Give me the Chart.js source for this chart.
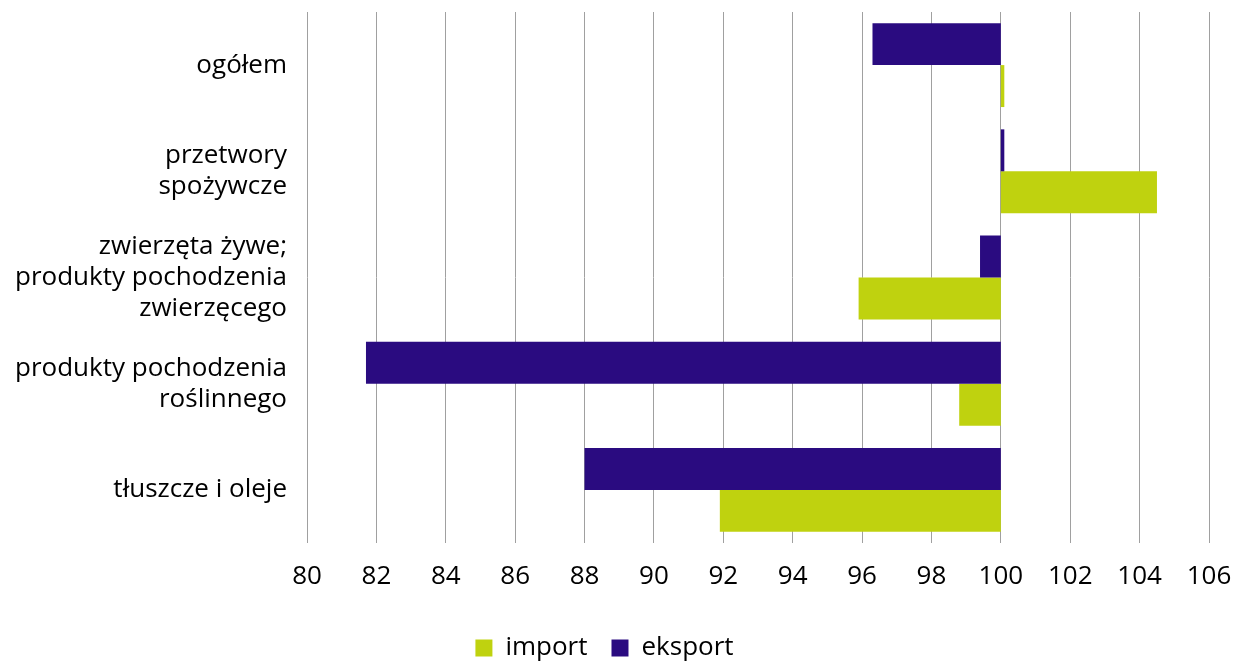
<!DOCTYPE html>
<html>
<head>
<meta charset="utf-8">
<script src="https://cdn.jsdelivr.net/npm/chart.js@4/dist/chart.umd.min.js"></script>
<style>
  html, body { margin: 0; padding: 0; background: #fff; }
  #wrap { width: 1242px; height: 661px; position: relative; }
</style>
</head>
<body>
<div id="wrap"><canvas id="chart"></canvas></div>
<script>
// ── Data ─────────────────────────────────────────────────────────────────────
const categories = [
  ['ogółem'],
  ['przetwory', 'spożywcze'],
  ['zwierzęta żywe;', 'produkty pochodzenia', 'zwierzęcego'],
  ['produkty pochodzenia', 'roślinnego'],
  ['tłuszcze i oleje']
];
const eksport = [96.3, 100.1, 99.4, 81.7, 88.0];
const importV = [100.1, 104.5, 95.9, 98.8, 91.9];
const baseValue = 100;
const xTicks = [80, 82, 84, 86, 88, 90, 92, 94, 96, 98, 100, 102, 104, 106];

const FONT = "'Open Sans', 'Noto Sans', sans-serif";

// ── Chart ────────────────────────────────────────────────────────────────────
const ctx = document.getElementById('chart').getContext('2d');
new Chart(ctx, {
  type: 'bar',
  data: {
    labels: categories,
    datasets: [
      {
        label: 'eksport',
        data: eksport.map(v => [baseValue, v]),
        backgroundColor: '#2a0b80',
        borderWidth: 0
      },
      {
        label: 'import',
        data: importV.map(v => [baseValue, v]),
        backgroundColor: '#bfd20f',
        borderWidth: 0
      }
    ]
  },
  options: {
    indexAxis: 'y',
    responsive: true,
    maintainAspectRatio: false,
    animation: false,
    layout: { padding: { top: 12, right: 33, left: 0, bottom: -10 } },
    datasets: { bar: { categoryPercentage: 0.79, barPercentage: 1.0 } },
    scales: {
      x: {
        min: 80,
        max: 106,
        afterBuildTicks: s => { s.ticks = xTicks.map(v => ({ value: v })); },
        afterFit: s => { s.paddingLeft = 0; s.paddingRight = 0; },
        ticks: { color: '#000', font: { family: FONT, size: 26, lineHeight: 1.0 }, padding: 21 },
        grid: { color: '#a0a0a0', lineWidth: 1, drawTicks: false },
        border: { display: false }
      },
      y: {
        afterFit: s => { s.width = 307; s.paddingTop = 0; s.paddingBottom = 0; },
        ticks: { color: '#000', font: { family: FONT, size: 26, lineHeight: 1.2 }, padding: 12 },
        grid: { display: false },
        border: { display: false }
      }
    },
    plugins: {
      legend: {
        position: 'bottom',
        reverse: true,
        labels: {
          color: '#000',
          font: { family: FONT, size: 26 },
          boxWidth: 17,
          boxHeight: 17,
          padding: 24
        }
      },
      tooltip: { enabled: false }
    }
  }
});
</script>
</body>
</html>
